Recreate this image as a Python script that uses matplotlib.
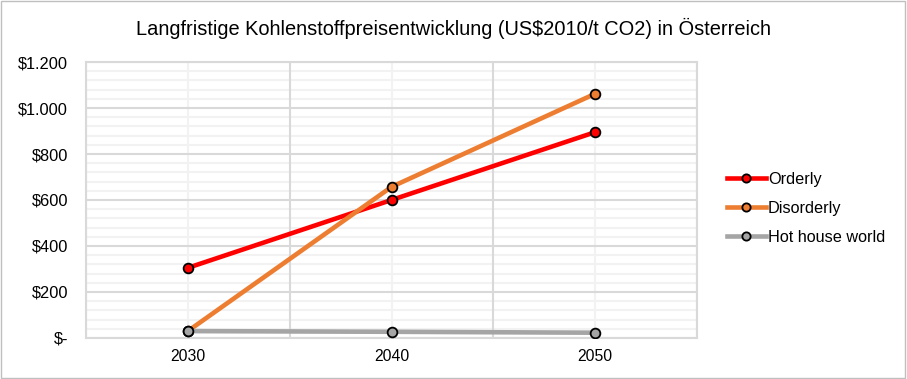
import matplotlib
matplotlib.use("Agg")
import matplotlib.pyplot as plt
from matplotlib.ticker import FixedLocator, MultipleLocator, FuncFormatter

plt.rcParams['font.family'] = ['Liberation Sans', 'DejaVu Sans']

years = [2030, 2040, 2050]
orderly = [305, 600, 895]
disorderly = [30, 657, 1062]
hot_house = [30, 27, 23]

series_names = ["Orderly", "Disorderly", "Hot house world"]
series_colors = ["#FF0000", "#ED7D31", "#A5A5A5"]
title = "Langfristige Kohlenstoffpreisentwicklung (US$2010/t CO2) in Österreich"

fig = plt.figure(figsize=(9.07, 3.79), dpi=100)
ax = fig.add_axes([0.0948, 0.1082, 0.6737, 0.7282])

# gray frame around the whole chart
fig.patches.append(plt.Rectangle((0.001, 0.002), 0.997, 0.995, transform=fig.transFigure,
                                 fill=False, edgecolor="#BFBFBF", linewidth=1))

for vals, name, col in zip([orderly, disorderly, hot_house], series_names, series_colors):
    ax.plot(years, vals, color=col, linewidth=3.3, marker="o", markersize=7,
            markerfacecolor=col, markeredgecolor="black", markeredgewidth=1.3,
            label=name, zorder=3)

ax.set_xlim(2025, 2055)
ax.set_ylim(0, 1200)

ax.xaxis.set_major_locator(FixedLocator([2025, 2035, 2045, 2055]))
ax.xaxis.set_minor_locator(FixedLocator(years))
ax.xaxis.set_major_formatter(FuncFormatter(lambda v, p: ""))
ax.xaxis.set_minor_formatter(FuncFormatter(lambda v, p: f"{int(round(v))}"))

ax.yaxis.set_major_locator(MultipleLocator(200))
ax.yaxis.set_minor_locator(MultipleLocator(40))


def money(v, p):
    if abs(v) < 1e-9:
        return "$-"
    return "$" + f"{int(round(v)):,}".replace(",", ".")


ax.yaxis.set_major_formatter(FuncFormatter(money))

# gridlines: light minor ones first, darker major ones on top
for v in ax.yaxis.get_minorticklocs():
    ax.axhline(v, color="#F2F2F2", linewidth=1.5, zorder=0.5)
for v in ax.xaxis.get_minorticklocs():
    ax.axvline(v, color="#F2F2F2", linewidth=1.5, zorder=0.5)
for v in ax.yaxis.get_majorticklocs():
    ax.axhline(v, color="#D9D9D9", linewidth=1.5, zorder=1)
for v in ax.xaxis.get_majorticklocs():
    ax.axvline(v, color="#D9D9D9", linewidth=1.5, zorder=1)

for s in ax.spines.values():
    s.set_color("#D9D9D9")
    s.set_linewidth(1.5)

ax.tick_params(which="both", length=0, colors="#000000")
ax.tick_params(axis="x", which="minor", labelsize=11.3, pad=8)
ax.tick_params(axis="y", labelsize=11.8, pad=13)

fig.text(0.5, 0.925, title, ha="center", va="center", fontsize=14.4)

leg = fig.legend(loc="center left", bbox_to_anchor=(0.785, 0.45), frameon=False,
                 fontsize=11.7, handlelength=2.4, handletextpad=0.15, labelspacing=0.85,
                 markerscale=0.85)

fig.savefig("out.png", dpi=100)
